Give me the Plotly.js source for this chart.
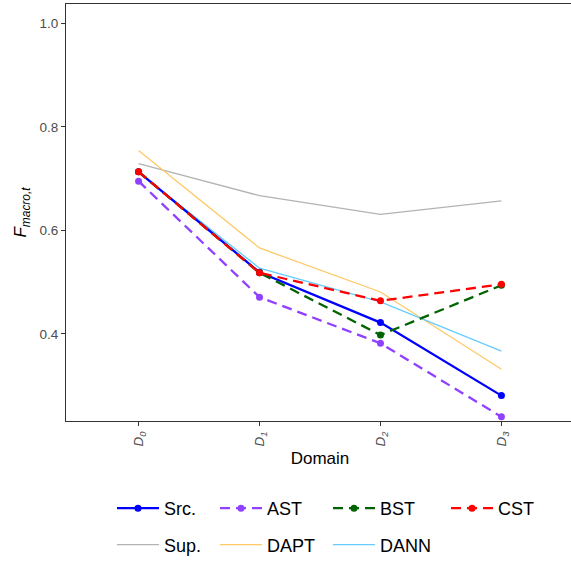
<!DOCTYPE html>
<html>
<head>
<meta charset="utf-8">
<script src="https://cdn.plot.ly/plotly-3.0.1.min.js"></script>
<style>
html,body{margin:0;padding:0;overflow:hidden;background:#fff;}
#chart{width:574px;height:561px;}
</style>
</head>
<body>
<div id="chart"></div>
<script>
var domains = [0, 1, 2, 3];
var domainLabels = ['<i>D<sub>0</sub></i>', '<i>D<sub>1</sub></i>', '<i>D<sub>2</sub></i>', '<i>D<sub>3</sub></i>'];
var yTicks = [0.4, 0.6, 0.8, 1.0];

var src  = [0.713, 0.519, 0.422, 0.281];
var ast  = [0.695, 0.471, 0.382, 0.240];
var bst  = [0.713, 0.518, 0.398, 0.494];
var cst  = [0.713, 0.518, 0.464, 0.496];
var sup  = [0.729, 0.667, 0.631, 0.657];
var dapt = [0.754, 0.566, 0.481, 0.332];
var dann = [0.712, 0.527, 0.462, 0.367];

var W = 574, H = 561, L = 66, R = 0, T = 4, B = 140;
var pw = W - L - R, ph = H - T - B;
function px(xp){ return (xp - L) / pw; }
function py(yp){ return (H - B - yp) / ph; }

function plain(name, y, color, lg, rank){
  return {x: domains, y: y, name: name, type: 'scatter', mode: 'lines',
    line: {color: color, width: 1.3}, legend: lg, legendgroup: name, legendrank: rank};
}
function marked(name, y, color, dash, lg, rank){
  return {x: domains, y: y, name: name, type: 'scatter', mode: 'lines+markers',
    line: {color: color, width: 2.3, dash: dash}, marker: {color: color, size: 7},
    legend: lg, legendgroup: name, legendrank: rank};
}

var data = [
  plain('Sup.', sup, '#B3B3B3', 'legend', 2),
  plain('DAPT', dapt, '#FFC966', 'legend2', 2),
  plain('DANN', dann, '#66CCFF', 'legend3', 2),
  marked('Src.', src, '#0000FF', 'solid', 'legend', 1),
  marked('AST', ast, '#9040FF', '10px,6px', 'legend2', 1),
  marked('BST', bst, '#006400', '10px,6px', 'legend3', 1),
  marked('CST', cst, '#FF0000', '10px,6px', 'legend4', 1)
];

function leg(xp){
  return {x: px(xp), xanchor: 'left', y: py(490), yanchor: 'top', orientation: 'v',
    font: {family: 'Liberation Sans, Arial, sans-serif', size: 18, color: '#000'},
    bgcolor: 'rgba(0,0,0,0)', borderwidth: 0, tracegroupgap: 10, itemwidth: 42,
    itemclick: false, itemdoubleclick: false};
}

var layout = {
  width: W, height: H,
  margin: {l: L, r: R, t: T, b: B, pad: 0, autoexpand: false},
  paper_bgcolor: '#fff', plot_bgcolor: '#fff',
  font: {family: 'Liberation Sans, Arial, sans-serif'},
  xaxis: {
    range: [-0.6, 3.6], tickvals: domains, ticktext: domainLabels, tickangle: -90,
    tickfont: {size: 13.5, color: '#4D4D4D'},
    ticks: 'outside', ticklen: 4, tickcolor: '#333', tickwidth: 1,
    showline: true, mirror: true, linecolor: '#333', linewidth: 1.2,
    showgrid: false, zeroline: false, automargin: false,
    title: {text: 'Domain', font: {size: 17, color: '#000'}, standoff: 6}
  },
  yaxis: {
    range: [0.232, 1.037], tickvals: yTicks, tickformat: '.1f',
    tickfont: {size: 13.5, color: '#4D4D4D'},
    ticks: 'outside', ticklen: 4, tickcolor: '#333', tickwidth: 1,
    showline: true, mirror: true, linecolor: '#333', linewidth: 1.2,
    showgrid: false, zeroline: false, automargin: false,
    title: {text: '<i>F<sub>macro,t</sub></i>', font: {size: 17, color: '#000'}, standoff: 8}
  },
  showlegend: true,
  legend: leg(112),
  legend2: leg(215),
  legend3: leg(328),
  legend4: leg(446)
};

Plotly.newPlot('chart', data, layout, {displayModeBar: false, responsive: false});
</script>
</body>
</html>
